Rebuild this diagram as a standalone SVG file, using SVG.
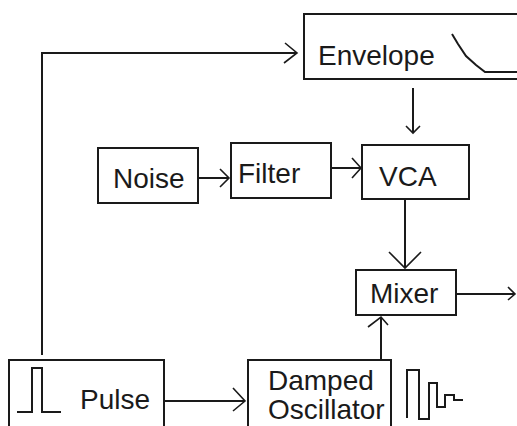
<svg xmlns="http://www.w3.org/2000/svg" width="517" height="426" viewBox="0 0 517 426">
<style>
.box{fill:#fff;stroke:#1a1a1a;stroke-width:2}
.lbl{font-family:"Liberation Sans",Arial,sans-serif;font-size:28px;fill:#1a1a1a}
.ln{fill:none;stroke:#1a1a1a;stroke-width:2}
.ah{fill:none;stroke:#1a1a1a;stroke-width:1.6}
.icon{fill:none;stroke:#1a1a1a;stroke-width:2}
</style>
<rect width="517" height="426" fill="#fff"/>
<g id="connectors">
<path class="ln" d="M42,355 V53 H297"/>
<polyline class="ah" points="285,43 297,53 284,63"/>
<path class="ln" d="M413,88 V133"/>
<polyline class="ah" points="406,126 413,133 420,126"/>
<path class="ln" d="M198,178 H229"/>
<polyline class="ah" points="220,169 229,178 220,187"/>
<path class="ln" d="M331,168 H361"/>
<polyline class="ah" points="352,158 361,168 352,178"/>
<path class="ln" d="M405,199 V268"/>
<polyline class="ah" points="389,252 405,268 421,252"/>
<path class="ln" d="M456,294 H515"/>
<polyline class="ah" points="508,287 515,294 508,300"/>
<path class="ln" d="M381,360 V317"/>
<polyline class="ah" points="368,327 381,317 388,325"/>
<path class="ln" d="M164,401 H245"/>
<polyline class="ah" points="233,388 245,401 233,411"/>
</g>
<g id="envelope">
<rect class="box" x="304" y="14" width="220" height="65"/>
<text class="lbl" x="318" y="65">Envelope</text>
<path class="icon" d="M452,34 L458,44 L466,56 L476,65 L485,72 H520"/>
</g>
<g id="noise">
<rect class="box" x="98" y="148" width="100" height="55"/>
<text class="lbl" x="113" y="188">Noise</text>
</g>
<g id="filter">
<rect class="box" x="231" y="143" width="100" height="55"/>
<text class="lbl" x="238" y="183">Filter</text>
</g>
<g id="vca">
<rect class="box" x="362" y="145" width="107" height="54"/>
<text class="lbl" x="379" y="186">VCA</text>
</g>
<g id="mixer">
<rect class="box" x="356" y="270" width="100" height="45"/>
<text class="lbl" x="370" y="303">Mixer</text>
</g>
<g id="pulse">
<rect class="box" x="9" y="360" width="155" height="80"/>
<path class="icon" d="M17,412 H32 V368 H42 V412 H61"/>
<text class="lbl" x="80" y="409">Pulse</text>
</g>
<g id="damped">
<rect class="box" x="248" y="360" width="143" height="80"/>
<text class="lbl" x="268" y="390">Damped</text>
<text class="lbl" x="268" y="419">Oscillator</text>
<path class="icon" d="M407,418 V370 H419 V419 H429 V383 H437 V407 H445 V395 H454 V400 H463"/>
</g>
</svg>
